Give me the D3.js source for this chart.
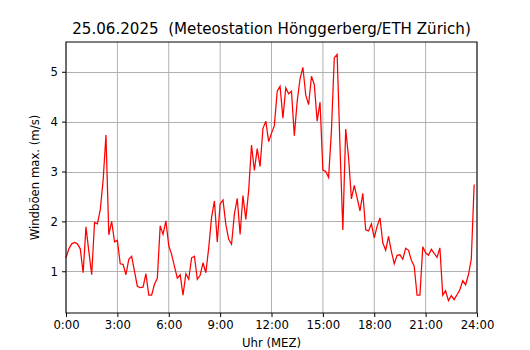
<!DOCTYPE html>
<html>

<head>
    <meta charset="utf-8">
    <script src="https://d3js.org/d3.v7.min.js"></script>
    <style>
        body {
            margin: 0;
            background: white;
        }

        text {
            font-family: "DejaVu Sans", sans-serif;
            fill: black;
        }
    </style>
</head>

<body>
    <svg id="chart" width="530" height="350"></svg>

    <script>
        // Windböen max. (m/s), one value every 10 minutes, 0:00 .. 23:50
        var gustValues = [
            1.27, 1.45, 1.55, 1.58, 1.55, 1.45, 0.97, 1.89, 1.40, 0.93, 1.98, 1.95,
            2.23, 2.82, 3.73, 1.73, 2.00, 1.59, 1.62, 1.15, 1.14, 0.93, 1.24, 1.30,
            1.00, 0.70, 0.67, 0.68, 0.95, 0.52, 0.52, 0.74, 0.86, 1.91, 1.74, 2.01,
            1.51, 1.34, 1.10, 0.86, 0.93, 0.52, 0.95, 0.84, 1.27, 1.30, 0.84, 0.92,
            1.17, 0.97, 1.47, 2.08, 2.41, 1.59, 2.35, 2.43, 1.94, 1.64, 1.54, 2.15,
            2.46, 1.74, 2.52, 2.04, 2.62, 3.53, 3.02, 3.46, 3.10, 3.86, 4.01, 3.60,
            3.77, 3.92, 4.61, 4.71, 4.07, 4.68, 4.56, 4.61, 3.72, 4.41, 4.86, 5.09,
            4.53, 4.34, 4.91, 4.74, 4.01, 4.39, 3.03, 3.00, 2.88, 3.82, 5.28, 5.35,
            3.50, 1.83, 3.85, 3.28, 2.45, 2.72, 2.47, 2.21, 2.56, 1.83, 1.81, 1.95,
            1.67, 1.90, 2.07, 1.57, 1.42, 1.70, 1.40, 1.15, 1.32, 1.33, 1.24, 1.46,
            1.42, 1.22, 1.10, 0.52, 0.52, 1.49, 1.37, 1.32, 1.44, 1.36, 1.28, 1.47,
            0.52, 0.61, 0.41, 0.51, 0.43, 0.53, 0.63, 0.81, 0.73, 0.93, 1.24, 2.74
        ];
        var stepMinutes = 10;

        var xTickValues = [0, 3, 6, 9, 12, 15, 18, 21, 24];
        var xTickLabels = ["0:00", "3:00", "6:00", "9:00", "12:00", "15:00", "18:00", "21:00", "24:00"];
        var yTickValues = [1, 2, 3, 4, 5];

        var titleText = "25.06.2025\u00a0\u00a0(Meteostation Hönggerberg/ETH Zürich)";
        var xLabel = "Uhr (MEZ)";
        var yLabel = "Windböen max. (m/s)";

        var data = gustValues.map((v, i) => ({ t: i * stepMinutes / 60, v: v }));

        var margin = { top: 42, right: 53, bottom: 37, left: 66 },
            width = 530 - margin.left - margin.right,
            height = 350 - margin.top - margin.bottom;

        var svg = d3.select("#chart")
            .append("g")
            .attr("transform", "translate(" + margin.left + "," + margin.top + ")");

        var x = d3.scaleLinear().domain([0, 24]).range([0, width]);

        // matplotlib style auto limits: 5% padding on the data extent
        var ext = d3.extent(gustValues);
        var pad = (ext[1] - ext[0]) * 0.05;
        var y = d3.scaleLinear().domain([ext[0] - pad, ext[1] + pad]).range([height, 0]);

        // grid
        svg.append("g")
            .selectAll("line.vgrid")
            .data(xTickValues)
            .enter()
            .append("line")
            .attr("x1", d => x(d)).attr("x2", d => x(d))
            .attr("y1", 0).attr("y2", height)
            .attr("stroke", "#b0b0b0").attr("stroke-width", 1);
        svg.append("g")
            .selectAll("line.hgrid")
            .data(yTickValues)
            .enter()
            .append("line")
            .attr("x1", 0).attr("x2", width)
            .attr("y1", d => Math.round(y(d)) + 0.5).attr("y2", d => Math.round(y(d)) + 0.5)
            .attr("stroke", "#b0b0b0").attr("stroke-width", 1);

        // the line
        var line = d3.line()
            .x(d => x(d.t))
            .y(d => y(d.v));
        svg.append("path")
            .datum(data)
            .attr("fill", "none")
            .attr("stroke", "#ff0000")
            .attr("stroke-width", 1.25)
            .attr("stroke-linejoin", "miter")
            .attr("d", line);

        // axes
        var xAxis = d3.axisBottom(x)
            .tickValues(xTickValues)
            .tickFormat((d, i) => xTickLabels[i])
            .tickSize(4).tickPadding(4);
        var gx = svg.append("g")
            .attr("transform", "translate(0," + height + ")")
            .call(xAxis);

        var yAxis = d3.axisLeft(y)
            .tickValues(yTickValues)
            .tickFormat(d3.format("d"))
            .tickSize(4).tickPadding(4);
        var gy = svg.append("g").call(yAxis);

        [gx, gy].forEach(g => {
            g.select(".domain").remove();
            g.selectAll(".tick line").attr("stroke", "black");
            g.selectAll("text").style("font-size", "11.7px").attr("fill", "black");
        });
        gx.selectAll("text").attr("dy", "0.71em");

        // frame
        svg.append("rect")
            .attr("x", 0).attr("y", 0)
            .attr("width", width).attr("height", height)
            .attr("fill", "none")
            .attr("stroke", "black")
            .attr("stroke-width", 1);

        // texts
        d3.select("#chart").append("text")
            .attr("x", margin.left + width / 2)
            .attr("y", 34)
            .attr("text-anchor", "middle")
            .style("font-size", "15.1px")
            .text(titleText);

        d3.select("#chart").append("text")
            .attr("x", margin.left + width / 2)
            .attr("y", 347)
            .attr("text-anchor", "middle")
            .style("font-size", "11.7px")
            .text(xLabel);

        d3.select("#chart").append("text")
            .attr("transform", "translate(39," + (margin.top + height / 2) + ") rotate(-90)")
            .attr("text-anchor", "middle")
            .style("font-size", "11.7px")
            .text(yLabel);
    </script>
</body>

</html>
